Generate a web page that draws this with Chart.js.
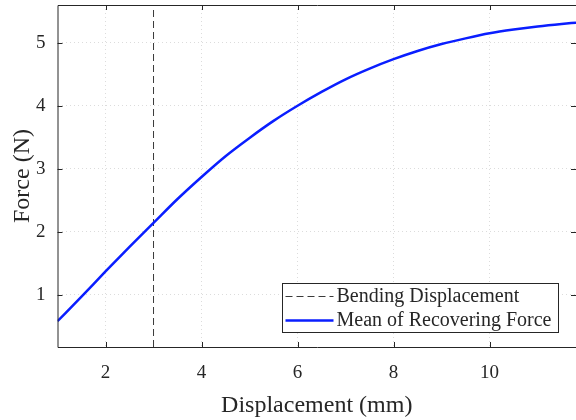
<!DOCTYPE html>
<html>
<head>
<meta charset="utf-8">
<script src="https://cdn.jsdelivr.net/npm/chart.js@4.4.1/dist/chart.umd.min.js"></script>
<style>
  html, body { margin: 0; padding: 0; background: #fff; overflow: hidden; }
  #wrap { width: 576px; height: 420px; }
</style>
</head>
<body>
<div id="wrap"><canvas id="forceChart" width="576" height="420"></canvas></div>
<script>
// Data
const displacement = [1, 1.5, 2, 2.5, 3, 3.5, 4, 4.5, 5, 5.5, 6, 6.5, 7, 7.5, 8, 8.5, 9, 9.5, 10, 10.5, 11, 11.5, 11.8];
const meanForce = [0.58, 0.97, 1.37, 1.76, 2.14, 2.52, 2.87, 3.2, 3.49, 3.76, 4.0, 4.22, 4.42, 4.59, 4.74, 4.87, 4.98, 5.07, 5.15, 5.21, 5.26, 5.3, 5.32];
const bendingX = 3;
const xTicks = [2, 4, 6, 8, 10];
const yTicks = [1, 2, 3, 4, 5];
const xRange = [1, 11.8];
const yRange = [0.17, 5.6];

const FONT = "'Liberation Serif', 'Times New Roman', serif";
const AXIS_COLOR = '#262626';

// frame, inward tick marks and legend box (MATLAB look)
const matlabFrame = {
  id: 'matlabFrame',
  afterDraw(chart) {
    const { ctx, chartArea: a, scales } = chart;
    ctx.save();
    ctx.strokeStyle = AXIS_COLOR;
    ctx.lineWidth = 1;
    ctx.beginPath();
    ctx.moveTo(a.right + 1, a.top + 0.5);
    ctx.lineTo(a.left + 0.5, a.top + 0.5);
    ctx.lineTo(a.left + 0.5, a.bottom + 0.5);
    ctx.lineTo(a.right + 1, a.bottom + 0.5);
    xTicks.forEach(v => {
      const px = Math.round(scales.x.getPixelForValue(v)) + 0.5;
      ctx.moveTo(px, a.bottom); ctx.lineTo(px, a.bottom - 5);
      ctx.moveTo(px, a.top); ctx.lineTo(px, a.top + 5);
    });
    yTicks.forEach(v => {
      const py = Math.round(scales.y.getPixelForValue(v)) + 0.5;
      ctx.moveTo(a.left, py); ctx.lineTo(a.left + 5, py);
      ctx.moveTo(a.right, py); ctx.lineTo(a.right - 5, py);
    });
    ctx.stroke();

    // legend
    const bx = 282.5, by = 283.5, bw = 276, bh = 49;
    ctx.fillStyle = '#fff';
    ctx.fillRect(bx, by, bw, bh);
    ctx.strokeRect(bx, by, bw, bh);
    ctx.font = '20px ' + FONT;
    ctx.textBaseline = 'middle';
    ctx.textAlign = 'left';
    chart.data.datasets.slice().reverse().forEach((ds, i) => {
      const y = by + 13 + i * 24;
      ctx.beginPath();
      ctx.strokeStyle = ds.borderColor;
      ctx.lineWidth = ds.borderWidth;
      ctx.setLineDash(ds.borderDash || []);
      ctx.moveTo(bx + 3, y);
      ctx.lineTo(bx + 51, y);
      ctx.stroke();
      ctx.setLineDash([]);
      ctx.fillStyle = AXIS_COLOR;
      ctx.fillText(ds.label, bx + 54, y);
    });
    ctx.restore();
  }
};

const ctx = document.getElementById('forceChart').getContext('2d');
new Chart(ctx, {
  type: 'line',
  data: {
    datasets: [
      {
        label: 'Mean of Recovering Force',
        data: displacement.map((x, i) => ({ x, y: meanForce[i] })),
        borderColor: '#0a1eff',
        borderWidth: 2.5,
        pointRadius: 0,
        cubicInterpolationMode: 'monotone',
        fill: false,
      },
      {
        label: 'Bending Displacement',
        data: [{ x: bendingX, y: yRange[0] }, { x: bendingX, y: yRange[1] }],
        borderColor: '#3a3a3a',
        borderWidth: 1,
        borderDash: [7, 4],
        pointRadius: 0,
        fill: false,
      },
    ],
  },
  options: {
    responsive: false,
    animation: false,
    devicePixelRatio: 1,
    layout: { padding: { top: 5, right: 0, left: 0, bottom: 0 } },
    plugins: { legend: { display: false }, tooltip: { enabled: false } },
    scales: {
      x: {
        type: 'linear',
        min: xRange[0],
        max: xRange[1],
        afterBuildTicks: (s) => { s.ticks = xTicks.map(v => ({ value: v })); },
        afterFit: (s) => { s.height = 73; s.paddingLeft = 0; s.paddingRight = 0; },
        grid: { color: '#dcdcdc', drawTicks: false, lineWidth: 1 },
        border: { display: false, dash: [1, 3] },
        ticks: { color: AXIS_COLOR, padding: 15, font: { family: FONT, size: 19 }, maxRotation: 0 },
        title: {
          display: true,
          text: 'Displacement (mm)',
          color: AXIS_COLOR,
          font: { family: FONT, size: 24 },
          padding: { top: 0, bottom: 0 },
        },
      },
      y: {
        type: 'linear',
        min: yRange[0],
        max: yRange[1],
        afterBuildTicks: (s) => { s.ticks = yTicks.map(v => ({ value: v })); },
        afterFit: (s) => { s.width = 57.5; s.paddingTop = 0; s.paddingBottom = 0; },
        grid: { color: '#dcdcdc', drawTicks: false, lineWidth: 1 },
        border: { display: false, dash: [1, 3] },
        ticks: { color: AXIS_COLOR, padding: 12, font: { family: FONT, size: 19 } },
        title: {
          display: true,
          text: 'Force (N)',
          color: AXIS_COLOR,
          font: { family: FONT, size: 24 },
          padding: { top: 8, bottom: 0 },
        },
      },
    },
  },
  plugins: [matlabFrame],
});
</script>
</body>
</html>
